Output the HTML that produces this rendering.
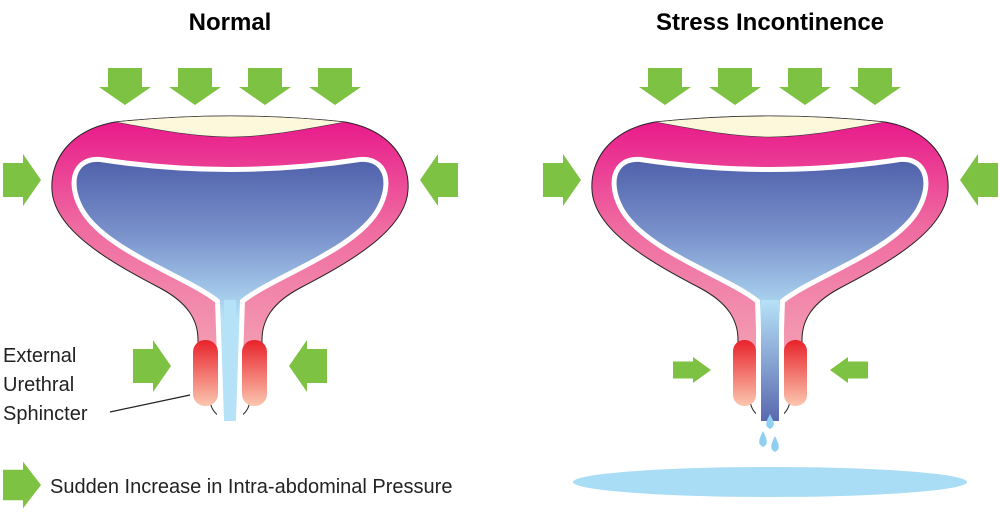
<!DOCTYPE html>
<html><head><style>
html,body{margin:0;padding:0;background:#fff;}
svg{display:block;}
text{font-family:"Liberation Sans",sans-serif;}
</style></head><body>
<svg width="1000" height="516" viewBox="0 0 1000 516" xmlns="http://www.w3.org/2000/svg">
<defs>
<linearGradient id="pink" x1="0" y1="0" x2="0" y2="1" gradientUnits="objectBoundingBox">
<stop offset="0" stop-color="#e8168a"/><stop offset="0.45" stop-color="#ef6aa0"/><stop offset="1" stop-color="#f4a0b4"/></linearGradient>
<linearGradient id="blue" x1="0" y1="150" x2="0" y2="320" gradientUnits="userSpaceOnUse">
<stop offset="0" stop-color="#4a5aa6"/><stop offset="0.5" stop-color="#7a92cc"/><stop offset="1" stop-color="#b6e2f7"/></linearGradient>
<linearGradient id="chan2" x1="0" y1="300" x2="0" y2="420" gradientUnits="userSpaceOnUse">
<stop offset="0" stop-color="#b6e2f7"/><stop offset="1" stop-color="#5a6ab0"/></linearGradient>
<linearGradient id="sph" x1="0" y1="0" x2="0" y2="1">
<stop offset="0" stop-color="#e8222a"/><stop offset="1" stop-color="#fbc7b0"/></linearGradient>
<g id="arrowDown"><path d="M-17,0 H17 V19 H26 L0,37 L-26,19 H-17 Z" fill="#7dc242"/></g>
<g id="arrowRight"><path d="M0,-17 H20 V-26 L38,0 L20,26 V17 H0 Z" fill="#7dc242"/></g>
<g id="bladder">
<path d="M-20,398 C-20,426 20,426 20,398" fill="#fff" stroke="#222" stroke-width="1"/>
<path d="M-115,122 Q0,110 115,122 C160,130 180,160 178,190 C176,230 120,262 70,288 C42,303 32,320 32,340 L32,360 L-32,360 L-32,340 C-32,320 -42,303 -70,288 C-120,262 -176,230 -178,190 C-180,160 -160,130 -115,122 Z" fill="url(#pink)" stroke="#222" stroke-width="1"/>
<path d="M-115,122 Q0,110 115,122 C80,128 40,137 0,137 C-40,137 -80,128 -115,122 Z" fill="#fdf8dc" stroke="#333" stroke-width="0.6"/>
</g>
<path id="cavity" d="M-130,162 Q0,182 130,162 C155,160 160,185 145,210 C120,250 40,275 10,300 L6,420 L-6,420 L-10,300 C-40,275 -120,250 -145,210 C-160,185 -155,160 -130,162 Z"/>
</defs>

<text x="230" y="30" text-anchor="middle" font-size="24" font-weight="bold">Normal</text>
<text x="770" y="30" text-anchor="middle" font-size="24" font-weight="bold">Stress Incontinence</text>

<g transform="translate(230,0)">
<use href="#bladder"/>
<use href="#cavity" fill="none" stroke="#fff" stroke-width="10"/>
<rect x="-13" y="290" width="26" height="130" fill="#fff"/>
<use href="#cavity" fill="url(#blue)"/>
<rect x="-6" y="300" width="12" height="121" fill="#b6e2f7"/>
<rect x="-37" y="340" width="25" height="66" rx="12" fill="url(#sph)"/>
<rect x="12" y="340" width="25" height="66" rx="12" fill="url(#sph)"/>
</g>
<use href="#arrowDown" x="125" y="68"/><use href="#arrowDown" x="195" y="68"/><use href="#arrowDown" x="265" y="68"/><use href="#arrowDown" x="335" y="68"/>
<use href="#arrowRight" x="3" y="180"/>
<use href="#arrowRight" transform="translate(458,180) scale(-1,1)"/>
<use href="#arrowRight" x="133" y="366"/>
<use href="#arrowRight" transform="translate(327,366) scale(-1,1)"/>
<text x="3" y="362" font-size="20" fill="#222">External</text>
<text x="3" y="391" font-size="20" fill="#222">Urethral</text>
<text x="3" y="420" font-size="20" fill="#222">Sphincter</text>
<line x1="110" y1="412" x2="190" y2="395" stroke="#222" stroke-width="1.2"/>

<ellipse cx="770" cy="482" rx="197" ry="15" fill="#a9dcf5"/>
<g transform="translate(770,0)">
<use href="#bladder"/>
<use href="#cavity" fill="none" stroke="#fff" stroke-width="10"/>
<rect x="-14" y="290" width="28" height="130" fill="#fff"/>
<use href="#cavity" fill="url(#blue)"/>
<rect x="-9" y="300" width="18" height="121" fill="url(#chan2)"/>
<rect x="-37" y="340" width="23" height="66" rx="11" fill="url(#sph)"/>
<rect x="14" y="340" width="23" height="66" rx="11" fill="url(#sph)"/>
<path d="M0,414 C-4,422 -6,426 0,429 C6,426 4,422 0,414 Z" fill="#8fd0f2"/>
<path d="M-7,431 C-11,439 -13,444 -7,447 C-1,444 -3,439 -7,431 Z" fill="#8fd0f2"/>
<path d="M5,436 C1,444 -1,449 5,452 C11,449 9,444 5,436 Z" fill="#8fd0f2"/>
</g>
<use href="#arrowDown" x="665" y="68"/><use href="#arrowDown" x="735" y="68"/><use href="#arrowDown" x="805" y="68"/><use href="#arrowDown" x="875" y="68"/>
<use href="#arrowRight" x="543" y="180"/>
<use href="#arrowRight" transform="translate(998,180) scale(-1,1)"/>
<g transform="translate(673,370) scale(1,0.5)"><use href="#arrowRight"/></g>
<g transform="translate(868,370) scale(-1,0.5)"><use href="#arrowRight"/></g>

<g transform="translate(3,485) scale(1,0.9)"><use href="#arrowRight"/></g>
<text x="50" y="493" font-size="20" fill="#222">Sudden Increase in Intra-abdominal Pressure</text>
</svg>
</body></html>
